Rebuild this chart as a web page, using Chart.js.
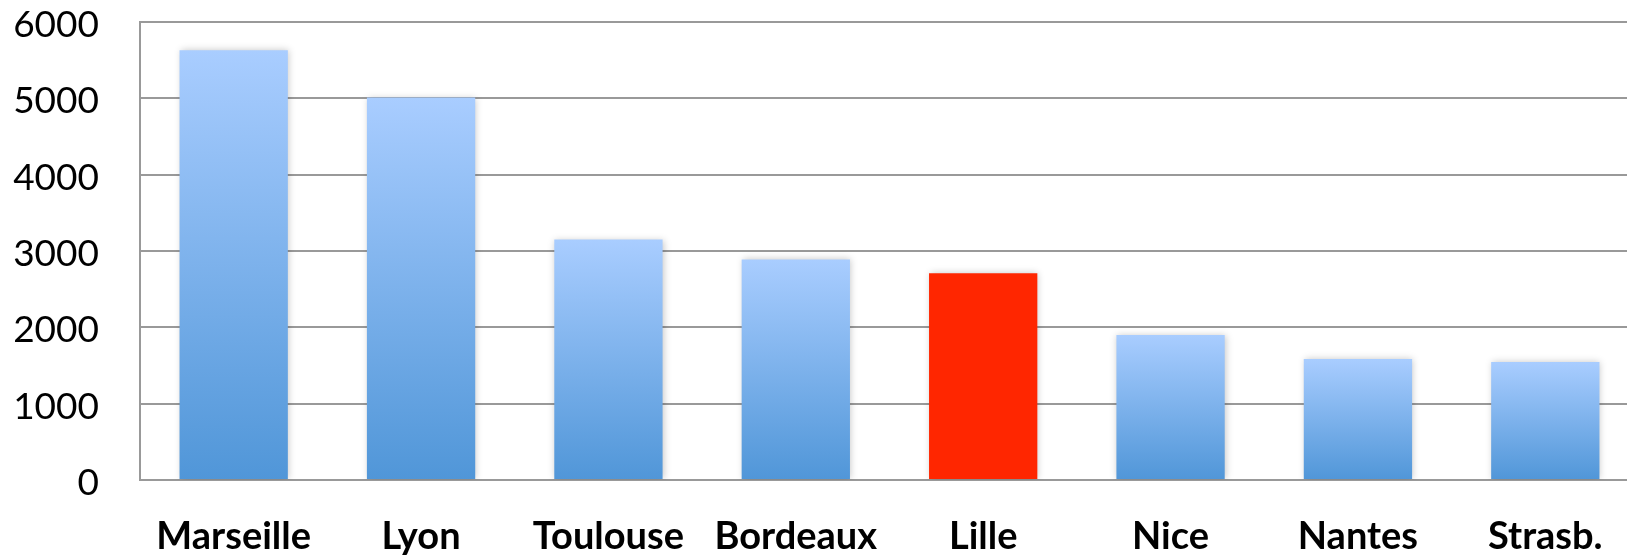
<!DOCTYPE html>
<html>
<head>
<meta charset="utf-8">
<script src="https://cdn.jsdelivr.net/npm/chart.js@4"></script>
<style>
  html, body { margin: 0; padding: 0; background: #fff; overflow: hidden; }
  #wrap { width: 1639px; height: 555px; }
</style>
</head>
<body>
<div id="wrap"><canvas id="cityChart"></canvas></div>
<script>
// Data
const cities = ['Marseille', 'Lyon', 'Toulouse', 'Bordeaux', 'Lille', 'Nice', 'Nantes', 'Strasb.'];
const values = [5630, 5010, 3150, 2890, 2710, 1900, 1585, 1545];
const highlight = 'Lille';
const yTicks = [0, 1000, 2000, 3000, 4000, 5000, 6000];

const gridColor = '#999999';

// each bar gets its own light-to-dark gradient, the highlighted one is plain red
function barColor(context) {
    const chart = context.chart;
    if (context.type !== 'data') return '#79ace8';
    if (cities[context.dataIndex] === highlight) return '#ff2600';
    if (!chart.chartArea) return '#79ace8';
    const yScale = chart.scales.y;
    const top = yScale.getPixelForValue(values[context.dataIndex]);
    const bottom = yScale.getPixelForValue(0);
    const g = chart.ctx.createLinearGradient(0, top, 0, bottom);
    g.addColorStop(0, '#a9cdff');
    g.addColorStop(1, '#5096d8');
    return g;
}

// soft shadow behind the bars
const barShadow = {
    id: 'barShadow',
    beforeDatasetsDraw(chart) {
        const ctx = chart.ctx;
        ctx.save();
        ctx.shadowColor = 'rgba(0,0,0,0.22)';
        ctx.shadowBlur = 7;
        ctx.shadowOffsetX = 1;
        ctx.shadowOffsetY = 0;
    },
    afterDatasetsDraw(chart) {
        chart.ctx.restore();
    }
};

const ctx = document.getElementById('cityChart').getContext('2d');
new Chart(ctx, {
    type: 'bar',
    data: {
        labels: cities,
        datasets: [{
            data: values,
            backgroundColor: barColor,
            borderWidth: 0,
            barPercentage: 0.578,
            categoryPercentage: 1
        }]
    },
    options: {
        responsive: true,
        maintainAspectRatio: false,
        animation: false,
        layout: { padding: { top: 22, right: 0, left: 0, bottom: 0 } },
        plugins: {
            legend: { display: false },
            tooltip: { enabled: false }
        },
        scales: {
            x: {
                grid: { display: false, drawTicks: false },
                border: { display: false },
                ticks: {
                    color: '#000',
                    font: { family: 'Lato', size: 38, weight: 'bold' },
                    padding: 34,
                    maxRotation: 0,
                    autoSkip: false
                },
                afterFit(scale) {
                    scale.height = 75;
                    scale.paddingLeft = 0;
                    scale.paddingRight = 0;
                }
            },
            y: {
                min: 0,
                max: 6000,
                afterBuildTicks(scale) { scale.ticks = yTicks.map(v => ({ value: v })); },
                grid: { color: gridColor, lineWidth: 2, drawTicks: false },
                border: { display: true, color: gridColor, width: 2 },
                ticks: {
                    color: '#000',
                    font: { family: 'Lato', size: 37 },
                    padding: 41,
                    labelOffset: 3,
                    callback: v => String(v)
                },
                afterFit(scale) {
                    scale.width = 140;
                    scale.paddingTop = 0;
                    scale.paddingBottom = 0;
                }
            }
        }
    },
    plugins: [barShadow]
});
</script>
</body>
</html>
